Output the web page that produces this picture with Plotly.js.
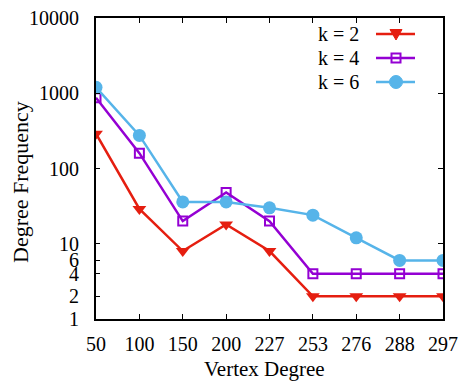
<!DOCTYPE html>
<html>
<head>
<meta charset="utf-8">
<script src="https://cdn.plot.ly/plotly-3.0.1.min.js"></script>
<style>html,body{margin:0;padding:0;background:#fff;}#chart{width:460px;height:381px;}</style>
</head>
<body>
<div id="chart"></div>
<script>
const categories = ['50','100','150','200','227','253','276','288','297'];
const k2 = [290, 29, 8, 18, 8, 2, 2, 2, 2];
const k4 = [870, 160, 20, 48, 20, 4, 4, 4, 4];
const k6 = [1200, 275, 36, 36, 30, 24, 12, 6, 6];
const yTickVals = [1, 2, 4, 6, 10, 100, 1000, 10000];
const yTickText = ['1', '2', '4', '6', '10', '100', '1000', '10000'];
const names = ['k = 2', 'k = 4', 'k = 6'];
const colors = ['#e51e10', '#9400d3', '#56b4e9'];
const xTitle = 'Vertex Degree';
const yTitle = 'Degree Frequency';

const FONT = 'Liberation Serif, Times New Roman, serif';
const L = 96, R = 443, T = 18, B = 319;
const px = x => (x - L) / (R - L);
const py = y => (B - y) / (B - T);

const traces = [
  {x: categories, y: k2, name: names[0], mode: 'lines+markers',
   line: {color: colors[0], width: 2.5},
   marker: {symbol: 'triangle-down', size: 12, color: colors[0]}},
  {x: categories, y: k4, name: names[1], mode: 'lines+markers',
   line: {color: colors[1], width: 2.5},
   marker: {symbol: 'square-open', size: 9, color: colors[1], line: {width: 2, color: colors[1]}}},
  {x: categories, y: k6, name: names[2], mode: 'lines+markers',
   line: {color: colors[2], width: 2.5},
   marker: {symbol: 'circle', size: 13, color: colors[2]}},
  {x: categories, y: k6, yaxis: 'y2', mode: 'lines', hoverinfo: 'skip',
   line: {width: 0}, opacity: 0, showlegend: false}
];

// manual legend (text left of sample, gnuplot style)
const legY = [34, 58, 82];
const shapes = [];
const annotations = [];
legY.forEach((yy, i) => {
  annotations.push({xref: 'paper', yref: 'paper', x: px(361), y: py(yy), xanchor: 'right', yanchor: 'middle',
    text: names[i], showarrow: false, font: {family: FONT, size: 20, color: '#000'}});
  shapes.push({type: 'line', xref: 'paper', yref: 'paper', x0: px(376), x1: px(415), y0: py(yy), y1: py(yy),
    line: {color: colors[i], width: 2.5}});
});
const cx = 396;
shapes.push({type: 'path', xref: 'paper', yref: 'paper', fillcolor: colors[0], line: {color: colors[0], width: 1},
  path: `M ${px(cx-6)} ${py(legY[0]-4.5)} L ${px(cx+6)} ${py(legY[0]-4.5)} L ${px(cx)} ${py(legY[0]+6)} Z`});
shapes.push({type: 'rect', xref: 'paper', yref: 'paper', fillcolor: 'rgba(0,0,0,0)', line: {color: colors[1], width: 2},
  x0: px(cx-4.5), x1: px(cx+4.5), y0: py(legY[1]+4.5), y1: py(legY[1]-4.5)});
shapes.push({type: 'circle', xref: 'paper', yref: 'paper', fillcolor: colors[2], line: {color: colors[2], width: 1},
  x0: px(cx-6.5), x1: px(cx+6.5), y0: py(legY[2]+6.5), y1: py(legY[2]-6.5)});

// axis titles
annotations.push({xref: 'paper', yref: 'paper', x: px(264.5), y: py(369), xanchor: 'center', yanchor: 'middle',
  text: xTitle, showarrow: false, font: {family: FONT, size: 21, color: '#000'}});
annotations.push({xref: 'paper', yref: 'paper', x: px(20), y: py(182), xanchor: 'center', yanchor: 'middle',
  textangle: -90, text: yTitle, showarrow: false, font: {family: FONT, size: 22, color: '#000'}});

const layout = {
  width: 460, height: 381,
  margin: {l: L, r: 460 - R, t: T, b: 381 - B, pad: 0},
  paper_bgcolor: '#fff', plot_bgcolor: '#fff',
  showlegend: false,
  font: {family: FONT, size: 20, color: '#000'},
  xaxis: {
    type: 'category', range: [0, 8], showgrid: false, zeroline: false,
    showline: true, linecolor: '#000', linewidth: 2, mirror: 'ticks',
    ticks: 'inside', ticklen: 5, tickwidth: 1, tickcolor: '#000',
    ticklabelstandoff: 6,
    tickfont: {family: FONT, size: 20}
  },
  yaxis: {
    type: 'log', range: [0, 4], showgrid: false, zeroline: false,
    showline: true, linecolor: '#000', linewidth: 2,
    tickvals: yTickVals, ticktext: yTickText,
    ticks: 'inside', ticklen: 4, tickwidth: 1, tickcolor: '#000',
    ticklabelstandoff: 11,
    tickfont: {family: FONT, size: 20}
  },
  yaxis2: {
    type: 'log', range: [0, 4], overlaying: 'y', side: 'right', showgrid: false, zeroline: false,
    showline: true, linecolor: '#000', linewidth: 2,
    tickvals: [10, 100, 1000], ticks: 'inside', ticklen: 5, tickwidth: 1, tickcolor: '#000',
    showticklabels: false
  },
  shapes: shapes,
  annotations: annotations
};

Plotly.newPlot('chart', traces, layout, {displayModeBar: false, staticPlot: true});
</script>
</body>
</html>
